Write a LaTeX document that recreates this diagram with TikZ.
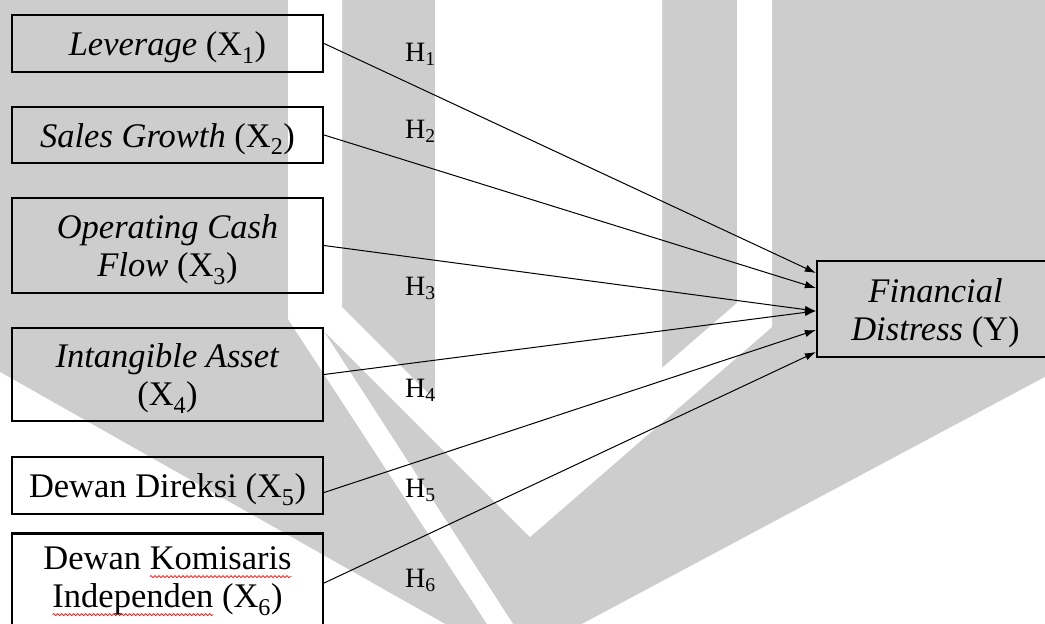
\documentclass[tikz,border=0pt]{standalone}
\usepackage{fontspec}
\setmainfont{Liberation Serif}
\usetikzlibrary{arrows.meta,decorations.pathmorphing}
\definecolor{markgray}{RGB}{205,205,205}
% red wavy spell-check underline under a word, text stays black
\newsavebox\wavedword
\newcommand\spellwave[1]{\sbox\wavedword{#1}%
  \tikz[overlay,baseline=0pt,x=1pt,y=1pt]
    \draw[red,line width=0.6pt,decorate,
      decoration={snake,segment length=4pt,amplitude=1pt}]
      (0,-7) -- (\wd\wavedword,-7);%
  \usebox\wavedword}
% taller first line, so the text sits a little lower in its box
\newcommand\lowerstrut{\rule{0pt}{32pt}}
\begin{document}
\begin{tikzpicture}[x=1pt,y=-1pt,
  varbox/.style={draw=black,line width=2.2pt,inner sep=0pt,align=center,
    minimum width=311pt,font=\fontsize{34.5}{38}\selectfont},
  hyp/.style={inner sep=0pt,anchor=base west,font=\fontsize{28}{30}\selectfont},
  link/.style={line width=1pt,-{Latex[length=11pt,width=7.5pt]}}]
\useasboundingbox (0,0) rectangle (1045,624);
\clip (0,0) rectangle (1045,624);

% background watermark
\fill[markgray] (0,0) rectangle (1045,624);
\fill[white] (288,0) -- (342,0) -- (342,307) -- (435,400) -- (435,0) -- (662,0)
  -- (662,368) -- (737,303) -- (737,0) -- (772,0) -- (772,327) -- (530,537)
  -- (323,330) -- (513,624) -- (487,624) -- (288,319) -- cycle;
\fill[white] (0,372) -- (445,624) -- (0,624) -- cycle;
\fill[white] (1045,377) -- (1045,624) -- (582,624) -- cycle;

% independent variables
\node[varbox,minimum height=57pt] (lev) at (167.5,43.5) {\lowerstrut\textit{Leverage} (X\textsubscript{1})};
\node[varbox,minimum height=56pt] (sal) at (167.5,135) {\lowerstrut\textit{Sales Growth} (X\textsubscript{2})};
\node[varbox,minimum height=95pt] (ocf) at (167.5,245.5) {\lowerstrut\textit{Operating Cash}\\\textit{Flow} (X\textsubscript{3})};
\node[varbox,minimum height=93pt] (ia) at (167.5,374.5) {\lowerstrut\textit{Intangible Asset}\\(X\textsubscript{4})};
\node[varbox,minimum height=57pt] (dd) at (167.5,485.5) {\lowerstrut Dewan Direksi (X\textsubscript{5})};
\node[varbox,minimum height=95pt] (dk) at (167.5,581) {Dewan \spellwave{Komisaris}\\\spellwave{Independen} (X\textsubscript{6})};

% dependent variable
\node[varbox,minimum width=237pt,minimum height=96pt] (fd) at (935.5,309) {\lowerstrut\textit{Financial}\\\textit{Distress} (Y)};

% hypothesised paths
\draw[link] (lev.east) -- ([yshift=36pt]fd.west);
\draw[link] (sal.east) -- ([yshift=21pt]fd.west);
\draw[link] (ocf.east) -- ([yshift=-2pt]fd.west);
\draw[link] (ia.east) -- ([yshift=-2pt]fd.west);
\draw[link] ([yshift=-7pt]dd.east) -- ([yshift=-21pt]fd.west);
\draw[link] ([yshift=-2pt]dk.east) -- ([yshift=-43pt]fd.west);

% hypothesis labels
\node[hyp] (h1) at (405,61) {H\textsubscript{1}};
\node[hyp] (h2) at (405,138) {H\textsubscript{2}};
\node[hyp] (h3) at (405,295) {H\textsubscript{3}};
\node[hyp] (h4) at (405,397) {H\textsubscript{4}};
\node[hyp] (h5) at (405,497) {H\textsubscript{5}};
\node[hyp] (h6) at (405,587) {H\textsubscript{6}};
\end{tikzpicture}
\end{document}
